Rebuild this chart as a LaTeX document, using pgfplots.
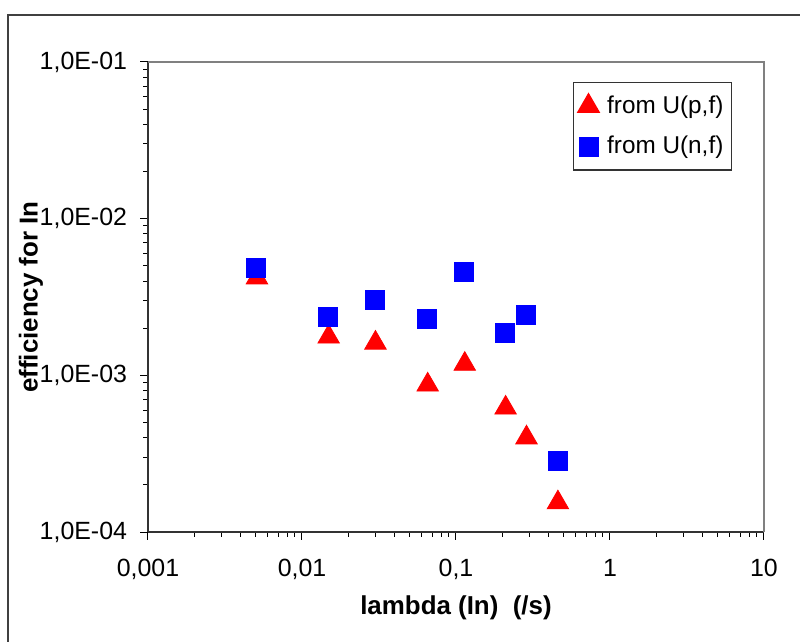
\documentclass[border=0pt]{standalone}
\usepackage{pgfplots}
\pgfplotsset{compat=1.18}
\usepackage{fontspec}
\setmainfont{Liberation Sans}

\begin{document}
\begin{tikzpicture}
\useasboundingbox (-74bp,-55bp) rectangle (326bp,266bp);
% outer chart frame (left and top edges visible)
\draw[black!75, line width=1.1bp] (-70bp,-56bp) -- (-70bp,258.5bp) -- (327bp,258.5bp);
\begin{axis}[
  at={(0,0)}, anchor=south west,
  scale only axis,
  width=308bp, height=235bp,
  xmode=log, ymode=log,
  xmin=0.001, xmax=10,
  ymin=1e-4, ymax=1e-1,
  axis lines*=left,
  axis line style={black!80, line width=0.8bp},
  tick align=outside,
  major tick length=4bp,
  minor tick length=2.5bp,
  tick style={black, line width=0.5bp},
  xtick={0.001,0.01,0.1,1,10},
  xticklabels={0{,}001,0{,}01,0{,}1,1,10},
  ytick={1e-4,1e-3,1e-2,1e-1},
  yticklabels={1{,}0E-04,1{,}0E-03,1{,}0E-02,1{,}0E-01},
  tick label style={font=\fontsize{12.5}{15}\selectfont},
  xticklabel style={yshift=-6bp},
  yticklabel style={xshift=-3bp},
  xlabel={\textbf{lambda (In)\ \ (/s)}},
  ylabel={\textbf{efficiency for In}},
  label style={font=\fontsize{13}{15}\selectfont},
  xlabel style={at={(axis description cs:0.5,-0.162)}, anchor=center},
  ylabel style={at={(axis description cs:-0.19,0.5)}, anchor=center},
  legend style={at={(0.948,0.957)}, anchor=north east,
    draw=black!80, line width=0.6bp,
    font=\fontsize{12.2}{15}\selectfont,
    row sep=6bp, inner xsep=2bp, inner ysep=4.5bp,
    /tikz/every odd column/.append style={column sep=2bp}},
  legend cell align=left,
  clip=false,
]
% red triangles: from U(p,f)
\addplot[only marks, mark=triangle*, mark size=6.2bp, color=red, fill=red] coordinates {
  (0.0051, 4.2e-3)
  (0.0149, 1.76e-3)
  (0.0300, 1.61e-3)
  (0.0655, 8.7e-4)
  (0.1140, 1.18e-3)
  (0.2100, 6.2e-4)
  (0.2870, 4.0e-4)
  (0.4590, 1.54e-4)
};
\addlegendentry{from U(p,f)}
% blue squares: from U(n,f)
\addplot[only marks, mark=square*, mark size=4.7bp, color=blue, fill=blue] coordinates {
  (0.0050, 4.84e-3)
  (0.0147, 2.36e-3)
  (0.0296, 3.03e-3)
  (0.0648, 2.29e-3)
  (0.1130, 4.57e-3)
  (0.2080, 1.87e-3)
  (0.2840, 2.43e-3)
  (0.4590, 2.84e-4)
};
\addlegendentry{from U(n,f)}
\draw[black!50, line width=0.8bp] (rel axis cs:0,1) -- (rel axis cs:1,1) -- (rel axis cs:1,0);
\end{axis}
\end{tikzpicture}
\end{document}
